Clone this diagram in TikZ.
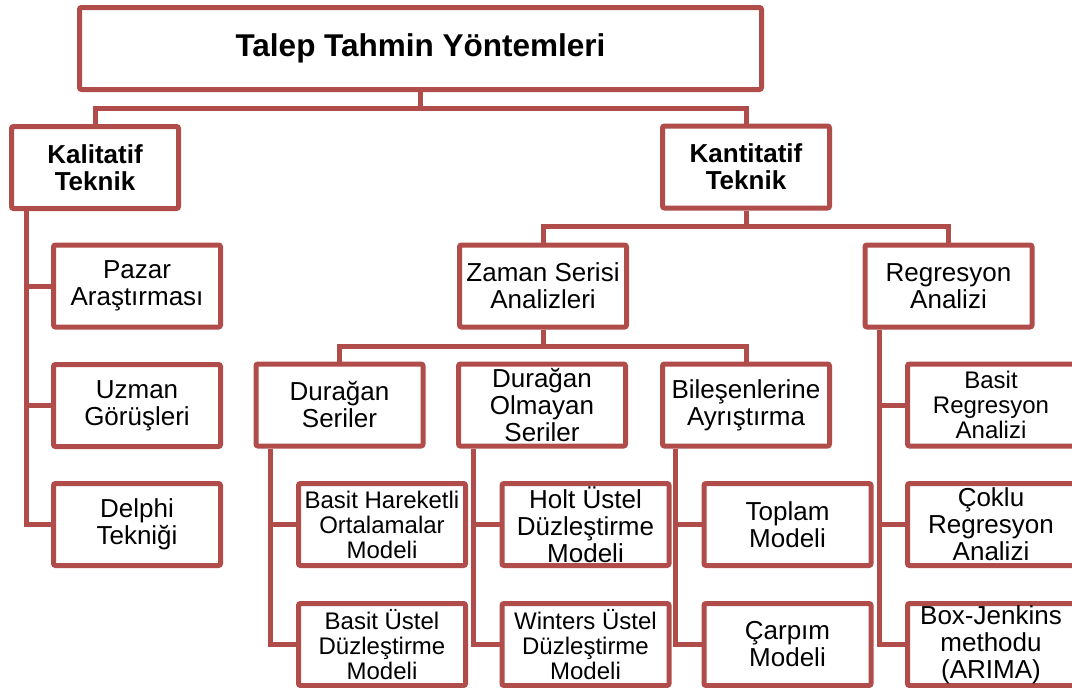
\documentclass[tikz,border=0pt]{standalone}
\usepackage{fontspec}
\setmainfont{Liberation Sans}
\usetikzlibrary{calc}
\definecolor{bord}{RGB}{176,76,73}
\tikzset{
  box/.style={draw=bord, line width=5pt, rounded corners=2pt, fill=white,
    minimum width=167pt, minimum height=82pt, inner sep=0pt, align=center,
    font=\fontsize{26}{27}\selectfont},
  smalltext/.style={font=\fontsize{24}{25}\selectfont},
  boldtext/.style={font=\fontsize{26}{27}\selectfont\bfseries},
  conn/.style={draw=bord, line width=5pt}
}
\begin{document}
\begin{tikzpicture}[x=1pt,y=-1pt]
\useasboundingbox (0,0) rectangle (1072,688);
% nodes
\node[box, minimum width=682pt, minimum height=82pt, font=\fontsize{31.5}{34}\selectfont\bfseries] (title) at (420.5,48.5) {Talep Tahmin Yöntemleri};
\node[box, boldtext] (kal) at (95,167.5) {Kalitatif\\Teknik};
\node[box, boldtext] (kan) at (746,167) {Kantitatif\\Teknik};
\node[box] (pazar) at (137,286) {Pazar\\Araştırması};
\node[box] (uzman) at (137,405.5) {Uzman\\Görüşleri};
\node[box] (delphi) at (137,524.5) {Delphi\\Tekniği};
\node[box] (zaman) at (543,286) {Zaman Serisi\\Analizleri};
\node[box] (regr) at (948.5,286) {Regresyon\\Analizi};
\node[box] (dur) at (339.5,405) {Durağan\\Seriler};
\node[box] (dol) at (542,405) {Durağan\\Olmayan\\Seriler};
\node[box] (bil) at (746,405) {Bileşenlerine\\Ayrıştırma};
\node[box, smalltext] (bho) at (382,524.5) {Basit Hareketli\\Ortalamalar\\Modeli};
\node[box, smalltext] (bus) at (382,644.5) {Basit Üstel\\Düzleştirme\\Modeli};
\node[box] (holt) at (585.5,524.5) {Holt Üstel\\Düzleştirme\\Modeli};
\node[box, smalltext] (win) at (585.5,644.5) {Winters Üstel\\Düzleştirme\\Modeli};
\node[box] (topl) at (787.5,524.5) {Toplam\\Modeli};
\node[box] (carp) at (787.5,644.5) {Çarpım\\Modeli};
\node[box, smalltext] (bra) at (991,405) {Basit\\Regresyon\\Analizi};
\node[box] (cra) at (991,524.5) {Çoklu\\Regresyon\\Analizi};
\node[box] (bja) at (991,644.5) {Box-Jenkins\\methodu\\(ARIMA)};
% bus coordinates
\coordinate (b1) at ($(title.south)+(0,16)$);
\coordinate (b2) at ($(kan.south)+(0,16)$);
\coordinate (b3) at ($(zaman.south)+(0,17)$);
\draw[conn] (title.south) -- (b1);
\draw[conn] (kal.north) |- (b1) -| (kan.north);
\draw[conn] (kan.south) -- (b2);
\draw[conn] (zaman.north) |- (b2) -| (regr.north);
\draw[conn] (zaman.south) -- (b3);
\draw[conn] (dur.north) |- (b3) -| (bil.north);
% trunks
\coordinate (t1) at ($(kal.south west)+(17,0)$);
\draw[conn] (t1) |- (pazar.west);
\draw[conn] (t1) |- (uzman.west);
\draw[conn] (t1) |- (delphi.west);
\coordinate (t2) at ($(dur.south west)+(17,0)$);
\draw[conn] (t2) |- (bho.west);
\draw[conn] (t2) |- (bus.west);
\coordinate (t3) at ($(dol.south west)+(17,0)$);
\draw[conn] (t3) |- (holt.west);
\draw[conn] (t3) |- (win.west);
\coordinate (t4) at ($(bil.south west)+(15,0)$);
\draw[conn] (t4) |- (topl.west);
\draw[conn] (t4) |- (carp.west);
\coordinate (t5) at ($(regr.south west)+(17,0)$);
\draw[conn] (t5) |- (bra.west);
\draw[conn] (t5) |- (cra.west);
\draw[conn] (t5) |- (bja.west);
\end{tikzpicture}
\end{document}
